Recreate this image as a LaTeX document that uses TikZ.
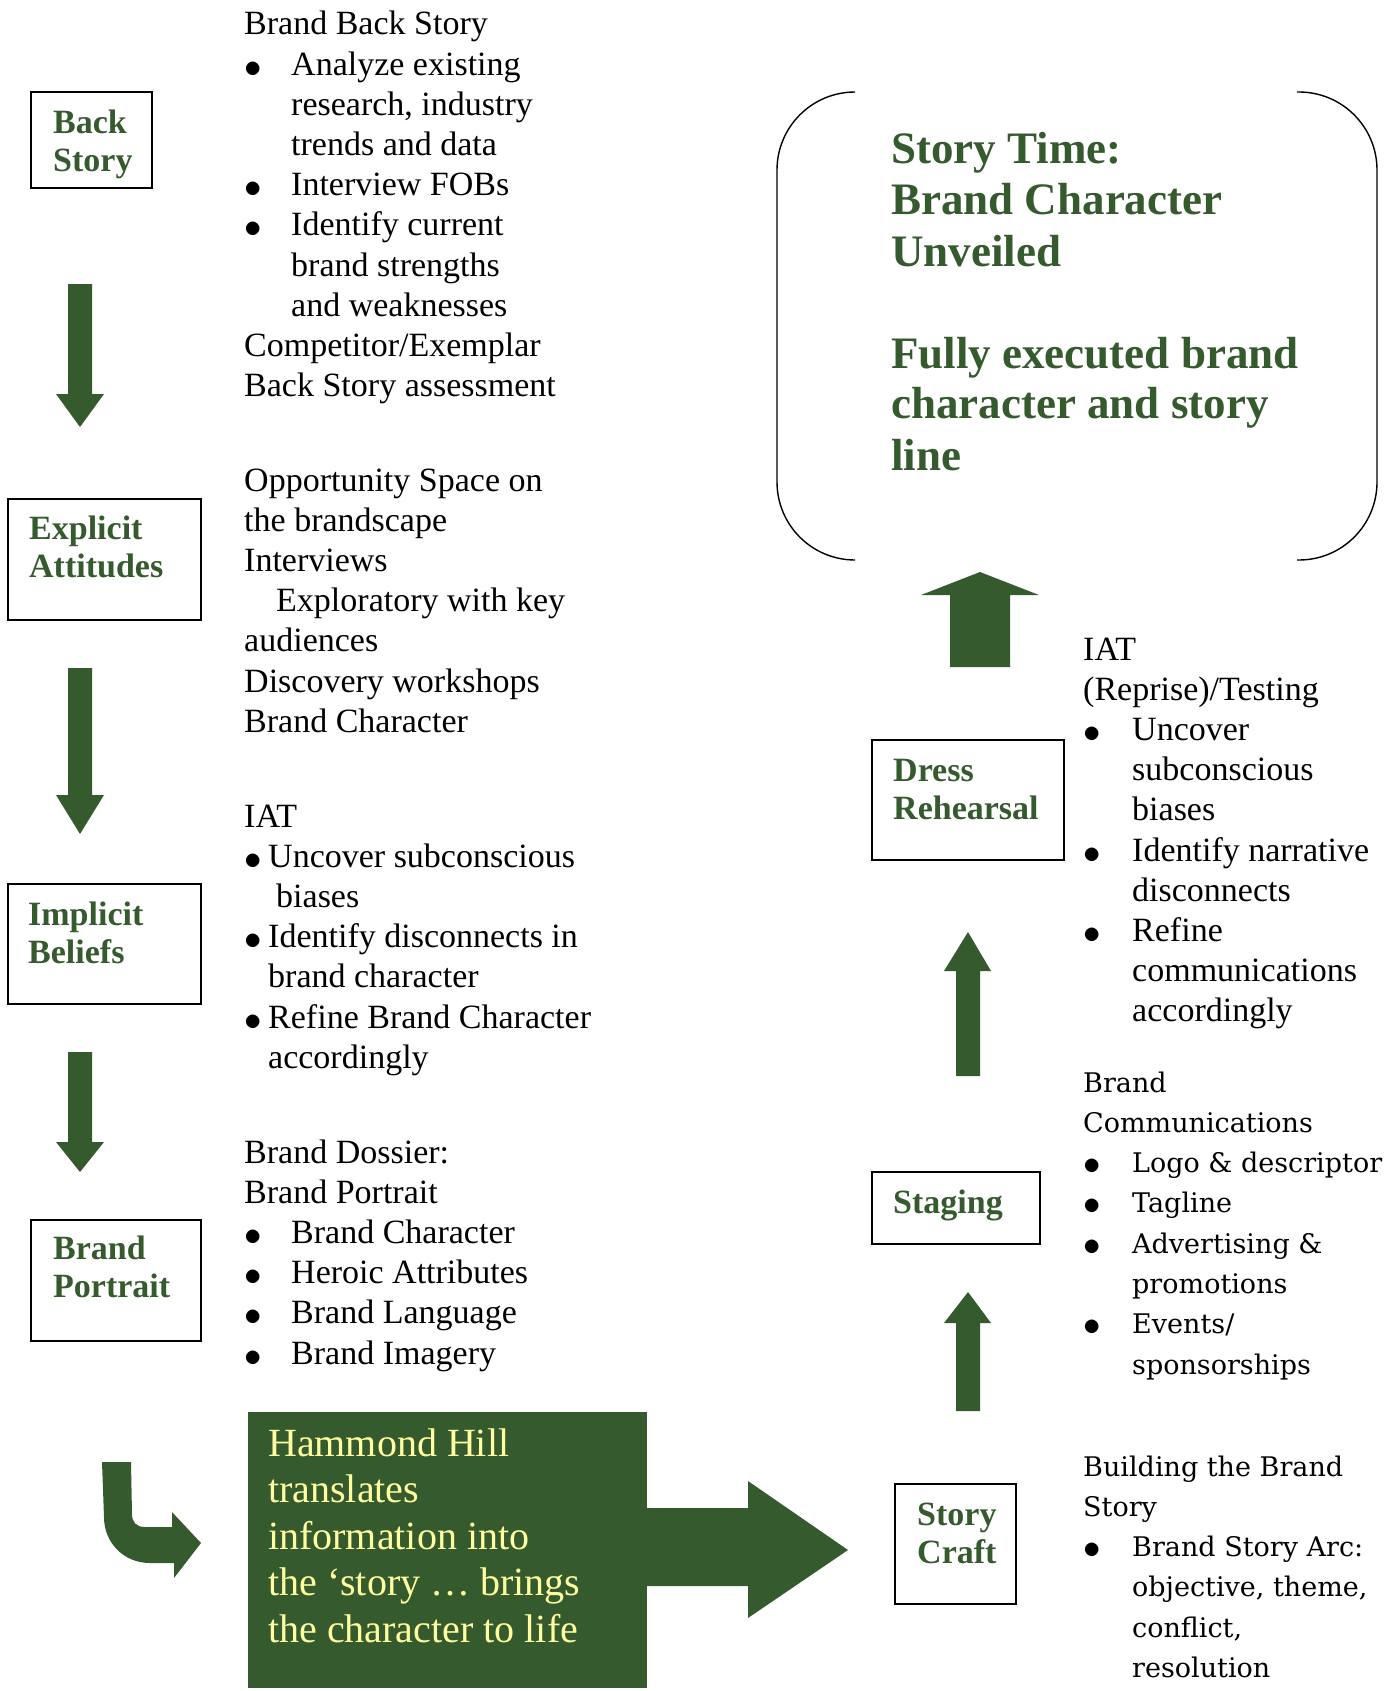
\documentclass[tikz,border=0pt]{standalone}
\usepackage{fontspec}
\setmainfont{Liberation Serif}
\newfontfamily\widefont{DejaVu Serif}
\definecolor{hhgreen}{RGB}{53,90,46}
\definecolor{hhyellow}{RGB}{255,255,160}
% lines of a text block, baseline on the first line
\newcommand{\txtlines}[1]{\begin{tabular}[t]{@{}l@{}}#1\end{tabular}}
\newcommand{\bitem}[1][47pt]{\makebox[#1][l]{\raisebox{-2pt}{\scalebox{1.4}{$\bullet$}}}}
\newcommand{\bskip}[1][47pt]{\hspace*{#1}}
\tikzset{
  stagebox/.style={draw, line width=1.4pt, inner sep=0pt},
  stagelbl/.style={anchor=base west, inner sep=0pt, text=hhgreen, font=\fontsize{34}{38}\selectfont\bfseries},
  blocktxt/.style={anchor=base west, inner sep=0pt, font=\fontsize{34}{40.2}\selectfont},
  widetxt/.style={anchor=base west, inner sep=0pt, font=\widefont\fontsize{27}{40.3}\selectfont},
}
\begin{document}
\begin{tikzpicture}[x=1pt, y=-1pt]
        \useasboundingbox (0,0) rectangle (1397,1691);
        % Stage boxes, left column
        \node[stagebox, minimum width=121, minimum height=96] (backstory) at (91.5,140) {};
        \node[stagelbl] (backstorylbl) at (53,133) {\txtlines{Back\\Story}};
        \node[stagebox, minimum width=193, minimum height=121] (explicit) at (104.5,559.5) {};
        \node[stagelbl] (explicitlbl) at (29,539) {\txtlines{Explicit\\Attitudes}};
        \node[stagebox, minimum width=193, minimum height=120] (implicit) at (104.5,944) {};
        \node[stagelbl] (implicitlbl) at (28,925) {\txtlines{Implicit\\Beliefs}};
        \node[stagebox, minimum width=170, minimum height=121] (portrait) at (116,1280.5) {};
        \node[stagelbl] (portraitlbl) at (53,1259) {\txtlines{Brand\\Portrait}};
        % Down arrows between the stages
        \foreach \top/\base/\tip in {284/394/427, 668/795/834, 1052/1142/1172}
            \fill[hhgreen] (68,\top) -- (92,\top) -- (92,\base) -- (104,\base) -- (80,\tip)
                -- (56,\base) -- (68,\base) -- cycle;
        % Text blocks, left column
        \node[blocktxt] (backtxt) at (244,35) {\txtlines{Brand Back Story\\
            \bitem Analyze existing\\ \bskip research, industry\\ \bskip trends and data\\
            \bitem Interview FOBs\\ \bitem Identify current\\ \bskip brand strengths\\
            \bskip and weaknesses\\ Competitor/Exemplar\\ Back Story assessment}};
        \node[blocktxt] (opptxt) at (244,491) {\txtlines{Opportunity Space on\\
            the brandscape\\ Interviews\\ \bskip[32pt]Exploratory with key\\
            audiences\\ Discovery workshops\\ Brand Character}};
        \node[blocktxt] (iattxt) at (244,827) {\txtlines{IAT\\
            \bitem[24pt]Uncover subconscious\\ \bskip[32pt]biases\\
            \bitem[24pt]Identify disconnects in\\ \bskip[24pt]brand character\\
            \bitem[24pt]Refine Brand Character\\ \bskip[24pt]accordingly}};
        \node[blocktxt] (dossiertxt) at (244,1163) {\txtlines{Brand Dossier:\\
            Brand Portrait\\ \bitem Brand Character\\ \bitem Heroic Attributes\\
            \bitem Brand Language\\ \bitem Brand Imagery}};
        % Curved arrow into the Hammond Hill box
        \fill[hhgreen] (102,1462) -- (131,1462) -- (132,1514) .. controls (132,1522) and (136,1527) .. (145,1527)
            -- (172,1527) -- (172,1512) -- (201,1543) -- (174,1578) -- (174,1563) -- (150,1563)
            .. controls (124,1563) and (104,1543) .. (104,1517) -- cycle;
        % Hammond Hill box and its arrow to Story Craft
        \node[fill=hhgreen, inner sep=0pt, minimum width=399, minimum height=276] (hh) at (447.5,1550) {};
        \node[anchor=base west, inner sep=0pt, text=hhyellow, font=\fontsize{40}{46.5}\selectfont] (hhtxt) at (268,1456)
            {\txtlines{Hammond Hill\\ translates\\ information into\\ the ‘story … brings\\ the character to life}};
        \fill[hhgreen] (647,1508) -- (748,1508) -- (748,1481) -- (848,1550) -- (748,1618) -- (748,1586) -- (647,1586) -- cycle;
        % Stage boxes, right column
        \node[stagebox, minimum width=121, minimum height=120] (storycraft) at (955.5,1544) {};
        \node[stagelbl] (storycraftlbl) at (917,1525) {\txtlines{Story\\Craft}};
        \node[stagebox, minimum width=168, minimum height=72] (staging) at (956,1208) {};
        \node[stagelbl] (staginglbl) at (893,1213) {Staging};
        \node[stagebox, minimum width=192, minimum height=120] (dress) at (968,800) {};
        \node[stagelbl] (dresslbl) at (893,781) {\txtlines{Dress\\Rehearsal}};
        % Up arrows between the stages
        \foreach \bot/\base/\tip in {1411/1323/1292, 1076/971/932}
            \fill[hhgreen] (956,\bot) -- (980,\bot) -- (980,\base) -- (991,\base) -- (968,\tip)
                -- (944,\base) -- (956,\base) -- cycle;
        \fill[hhgreen] (950,667) -- (1010,667) -- (1010,595) -- (1039,595) -- (980,572) -- (921,595) -- (950,595) -- cycle;
        % Text blocks, right column
        \node[blocktxt] (reprisetxt) at (1083,660) {\txtlines{IAT\\ (Reprise)/Testing\\
            \bitem[49pt]Uncover\\ \bskip[49pt]subconscious\\ \bskip[49pt]biases\\
            \bitem[49pt]Identify narrative\\ \bskip[49pt]disconnects\\
            \bitem[49pt]Refine\\ \bskip[49pt]communications\\ \bskip[49pt]accordingly}};
        \node[widetxt] (commtxt) at (1083,1092) {\txtlines{Brand\\ Communications\\
            \bitem[49pt]Logo \& descriptor\\ \bitem[49pt]Tagline\\
            \bitem[49pt]Advertising \&\\ \bskip[49pt]promotions\\
            \bitem[49pt]Events/\\ \bskip[49pt]sponsorships}};
        \node[widetxt] (buildtxt) at (1083,1476) {\txtlines{Building the Brand\\ Story\\
            \bitem[49pt]Brand Story Arc:\\ \bskip[49pt]objective, theme,\\
            \bskip[49pt]conflict,\\ \bskip[49pt]resolution}};
        % Story Time, between two brackets
        \node[anchor=base west, inner sep=0pt, text=hhgreen, font=\fontsize{45}{51}\selectfont\bfseries] (storytime) at (891,164)
            {\txtlines{Story Time:\\ Brand Character\\ Unveiled\\[51pt] Fully executed brand\\ character and story\\ line}};
        \draw[line width=1.4pt, rounded corners=78pt] (855,92) -- (777,92) -- (777,560) -- (855,560);
        \draw[line width=1.4pt, rounded corners=78pt] (1297,92) -- (1377,92) -- (1377,560) -- (1297,560);
\end{tikzpicture}
\end{document}
